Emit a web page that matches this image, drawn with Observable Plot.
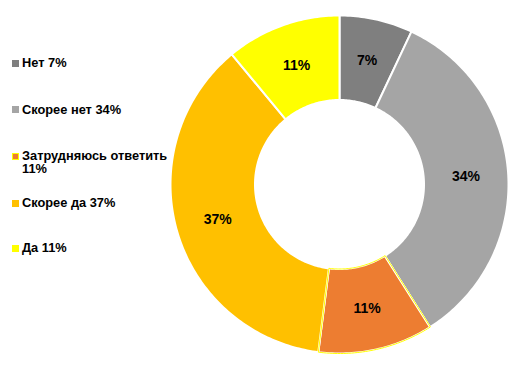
<!DOCTYPE html>
<html>
<head>
<meta charset="utf-8">
<script src="https://cdn.jsdelivr.net/npm/d3@7"></script>
<script src="https://cdn.jsdelivr.net/npm/@observablehq/plot@0.6"></script>
<style>
  html, body { margin: 0; padding: 0; background: #fff; }
  #wrap { position: relative; width: 521px; height: 370px; font-family: "Liberation Sans", Arial, sans-serif; }
  #chart { position: absolute; left: 0; top: 0; }
  .leg { position: absolute; left: 0; width: 180px; font-size: 12.8px; font-weight: bold; line-height: 13.4px; color: #000; }
  .leg .sw { position: absolute; left: 12px; width: 7px; height: 7px; box-sizing: border-box; }
  .leg .tx { position: absolute; left: 22px; width: 156px; }
</style>
</head>
<body>
<div id="wrap"><div id="chart"></div></div>
<script>
// Data
const categories = ["Нет", "Скорее нет", "Затрудняюсь ответить", "Скорее да", "Да"];
const values = [7, 34, 11, 37, 11];
// Styles
const palette = ["#7F7F7F", "#A5A5A5", "#ED7D31", "#FFC000", "#FFFF00"];
const legendBaselines = [67.5, 113.8, 160.2, 207.3, 252.3];

const innerR = 0.5, outerR = 1, labelR = 0.75;
const pie = d3.pie().sort(null).value(d => d.value).startAngle(0).endAngle(2 * Math.PI);
const rows = categories.map((c, i) => ({cat: c, value: values[i], color: palette[i]}));
const arcs = pie(rows);

const pts = [];
arcs.forEach(a => {
  const n = Math.max(8, Math.ceil((a.endAngle - a.startAngle) * 60));
  for (let k = 0; k <= n; k++) {
    const t = a.startAngle + (a.endAngle - a.startAngle) * k / n;
    pts.push({cat: a.data.cat, color: a.data.color, x: outerR * Math.sin(t), y: outerR * Math.cos(t)});
  }
  for (let k = n; k >= 0; k--) {
    const t = a.startAngle + (a.endAngle - a.startAngle) * k / n;
    pts.push({cat: a.data.cat, color: a.data.color, x: innerR * Math.sin(t), y: innerR * Math.cos(t)});
  }
});
const labels = arcs.map(a => {
  const m = (a.startAngle + a.endAngle) / 2;
  return {x: labelR * Math.sin(m), y: labelR * Math.cos(m), text: a.data.value + "%"};
});

const plot = Plot.plot({
  width: 521, height: 370,
  marginLeft: 170, marginRight: 13, marginTop: 15, marginBottom: 17,
  x: {domain: [-1, 1], axis: null},
  y: {domain: [-1, 1], axis: null},
  color: {type: "identity"},
  style: {fontFamily: "Liberation Sans, Arial, sans-serif", background: "transparent"},
  marks: [
    Plot.line(pts, {x: "x", y: "y", z: "cat", fill: "color", stroke: "white", strokeWidth: 2, curve: "linear-closed"}),
    Plot.line(pts.filter(d => d.cat === "Затрудняюсь ответить"), {x: "x", y: "y", z: "cat", fill: "none", stroke: "#FFFF00", strokeWidth: 1, curve: "linear-closed"}),
    Plot.text(labels, {x: "x", y: "y", text: "text", fontSize: 14, fontWeight: "bold", fill: "black"})
  ]
});
document.getElementById("chart").appendChild(plot);

const wrap = document.getElementById("wrap");
const baseOff = 11.2;
rows.forEach((r, i) => {
  const top = legendBaselines[i] - baseOff;
  const item = document.createElement("div");
  item.className = "leg";
  item.style.top = top + "px";
  const sw = document.createElement("div");
  sw.className = "sw";
  sw.style.top = (baseOff - 7.5) + "px";
  sw.style.background = r.color;
  if (r.cat === "Затрудняюсь ответить") sw.style.border = "1px solid #FFFF00";
  const tx = document.createElement("div");
  tx.className = "tx";
  tx.textContent = r.cat + " " + r.value + "%";
  item.appendChild(sw);
  item.appendChild(tx);
  wrap.appendChild(item);
});
</script>
</body>
</html>
